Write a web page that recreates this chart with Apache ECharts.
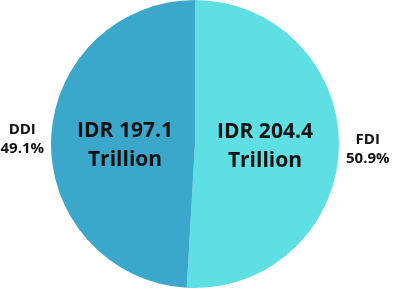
<!DOCTYPE html>
<html>
<head>
<meta charset="utf-8">
<script src="https://cdn.jsdelivr.net/npm/echarts@6/dist/echarts.min.js"></script>
<style>
html,body{margin:0;padding:0;background:#fff;}
#c{width:394px;height:289px;}
</style>
</head>
<body>
<div id="c"></div>
<script>
var categories = ['FDI', 'DDI'];
var values = [204.4, 197.1];
var shares = ['50.9%', '49.1%'];
var colors = ['#5DDFE3', '#3AA7CB'];

var chart = echarts.init(document.getElementById('c'), null, {renderer: 'canvas'});
var data = categories.map(function (n, i) {
  return {name: n, value: values[i], share: shares[i], itemStyle: {color: colors[i]}};
});
var fontFam = '"Open Sans", "DejaVu Sans", sans-serif';
chart.setOption({
  animation: false,
  series: [
    {
      type: 'pie',
      center: [195, 144],
      radius: [0, 144],
      startAngle: 90,
      clockwise: true,
      silent: true,
      data: data,
      label: {
        show: true,
        position: 'inside',
        formatter: function (p) { return 'IDR ' + p.value.toFixed(1) + '\nTrillion'; },
        fontFamily: fontFam,
        fontWeight: 'bold',
        fontSize: 21,
        lineHeight: 29,
        color: '#111'
      },
      labelLine: {show: false},
      labelLayout: function (p) {
        return p.dataIndex === 0 ? {dx: -5, dy: 0} : {dx: 5, dy: 4};
      }
    },
    {
      type: 'pie',
      center: [195, 144],
      radius: [0, 144],
      startAngle: 90,
      clockwise: true,
      silent: true,
      data: data.map(function (d) { return {name: d.name, value: d.value, share: d.share}; }),
      itemStyle: {color: 'rgba(0,0,0,0)'},
      label: {
        show: true,
        position: 'inside',
        overflow: 'none',
        formatter: function (p) { return p.name + '\n' + p.data.share; },
        fontFamily: fontFam,
        fontWeight: 'bold',
        fontSize: 15,
        lineHeight: 19,
        color: '#111',
        align: 'center'
      },
      labelLine: {show: false},
      labelLayout: function (p) {
        var r = p.rect, w = p.labelRect.width;
        var cy = r.y + r.height / 2;
        if (p.dataIndex === 1) {
          return {x: r.x - 7 - w / 2, y: cy - 5, align: 'center', verticalAlign: 'middle'};
        }
        return {x: r.x + r.width + 7 + w / 2, y: cy + 5, align: 'center', verticalAlign: 'middle'};
      }
    }
  ]
});
</script>
</body>
</html>
